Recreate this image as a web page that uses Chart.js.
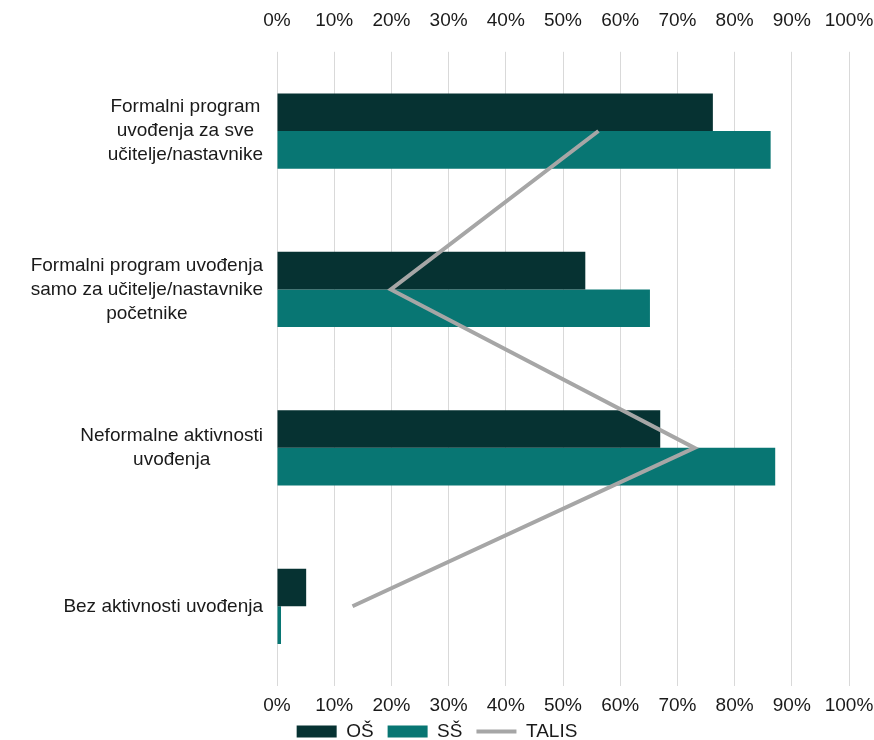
<!DOCTYPE html>
<html>
<head>
<meta charset="utf-8">
<script src="https://cdn.jsdelivr.net/npm/chart.js@4"></script>
<style>
  html, body { margin: 0; padding: 0; background: #ffffff; }
  #wrap { width: 874px; height: 740px; }
</style>
</head>
<body>
<div id="wrap"><canvas id="c" width="874" height="740"></canvas></div>
<script>
const categories = [
  ["Formalni program", "uvođenja za sve", "učitelje/nastavnike"],
  ["Formalni program uvođenja", "samo za učitelje/nastavnike", "početnike"],
  ["Neformalne aktivnosti", "uvođenja"],
  ["Bez aktivnosti uvođenja"]
];
const seriesNames = ["OŠ", "SŠ", "TALIS"];
const osValues = [76.2, 53.9, 67.0, 5.1];
const ssValues = [86.3, 65.2, 87.1, 0.7];
const talisValues = [56.2, 19.9, 73.0, 13.2];
const tickValues = [0, 10, 20, 30, 40, 50, 60, 70, 80, 90, 100];

const FONT = "'Liberation Sans', Arial, sans-serif";

const centeredLabels = {
  id: 'centeredLabels',
  afterDraw(chart) {
    const ctx = chart.ctx;
    const ys = chart.scales.y;
    const right = chart.chartArea.left - 14;
    const lh = 24;
    ctx.save();
    ctx.font = "19px " + FONT;
    ctx.fillStyle = '#1a1a1a';
    ctx.textAlign = 'center';
    ctx.textBaseline = 'middle';
    categories.forEach((lines, i) => {
      const yc = ys.getPixelForValue(i);
      let maxW = 0;
      lines.forEach(l => { maxW = Math.max(maxW, ctx.measureText(l).width); });
      const cx = right - maxW / 2;
      const y0 = yc - (lines.length - 1) * lh / 2;
      lines.forEach((l, k) => ctx.fillText(l, cx, y0 + k * lh));
    });
    ctx.restore();
  }
};

const tickCfg = {
  stepSize: 10,
  color: '#1a1a1a',
  font: { size: 19, family: FONT },
  callback: v => v + '%'
};

new Chart(document.getElementById('c'), {
  type: 'bar',
  data: {
    labels: categories.map(c => c.join(' ')),
    datasets: [
      {
        label: seriesNames[0], data: osValues,
        backgroundColor: '#063232', borderWidth: 0,
        categoryPercentage: 0.475, barPercentage: 1.0,
        pointStyle: 'rect', order: 1
      },
      {
        label: seriesNames[1], data: ssValues,
        backgroundColor: '#087673', borderWidth: 0,
        categoryPercentage: 0.475, barPercentage: 1.0,
        pointStyle: 'rect', order: 1
      },
      {
        type: 'line', label: seriesNames[2], data: talisValues,
        borderColor: '#a6a6a6', backgroundColor: '#a6a6a6',
        borderWidth: 4, pointRadius: 0, pointHoverRadius: 0,
        pointStyle: 'line', fill: false, tension: 0, order: 0
      }
    ]
  },
  options: {
    indexAxis: 'y',
    responsive: false,
    animation: false,
    devicePixelRatio: 1,
    layout: { padding: { left: 0, right: 0, top: -11, bottom: -11 } },
    scales: {
      x: {
        position: 'bottom', min: 0, max: 100,
        afterBuildTicks: s => { s.ticks = tickValues.map(v => ({ value: v })); },
        afterFit: s => { s.height = 22.5; s.paddingRight = 25; s.paddingLeft = 0; },
        ticks: Object.assign({ padding: -31.4, mirror: true }, tickCfg),
        grid: { color: '#d9d9d9', lineWidth: 1, drawTicks: false },
        border: { display: false }
      },
      x2: {
        position: 'top', min: 0, max: 100,
        afterBuildTicks: s => { s.ticks = tickValues.map(v => ({ value: v })); },
        afterFit: s => { s.paddingRight = 25; s.paddingLeft = 0; },
        ticks: Object.assign({ padding: 20 }, tickCfg),
        grid: { display: false, drawTicks: false },
        border: { display: false }
      },
      y: {
        afterFit: s => { s.width = 277; },
        ticks: { display: false },
        grid: { display: false, drawTicks: false },
        border: { display: false }
      }
    },
    plugins: {
      legend: {
        position: 'bottom',
        labels: {
          usePointStyle: true,
          pointStyleWidth: 40,
          boxHeight: 12,
          padding: 14,
          color: '#1a1a1a',
          font: { size: 19, family: FONT },
          sort: (a, b) => a.datasetIndex - b.datasetIndex
        }
      },
      tooltip: { enabled: false }
    }
  },
  plugins: [centeredLabels]
});
</script>
</body>
</html>
